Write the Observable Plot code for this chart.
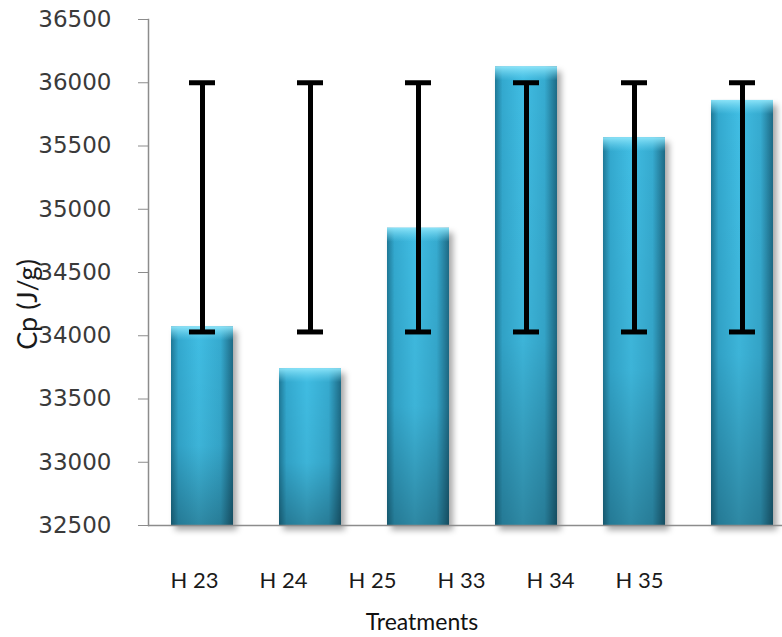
<!DOCTYPE html>
<html><head><meta charset="utf-8">
<script src="https://cdn.jsdelivr.net/npm/d3@7"></script>
<script src="https://cdn.jsdelivr.net/npm/@observablehq/plot@0.6"></script>
<style>
body{margin:0;background:#fff;}
#chart svg{display:block;}
.bars{filter: drop-shadow(4px 5px 3px rgba(0,0,0,0.35));}
</style></head><body><div id="chart"></div>
<script>
const categories = ["H 23","H 24","H 25","H 33","H 34","H 35"];
const values = [34070, 33740, 34850, 36125, 35565, 35860];
const errLow = [34030, 34030, 34030, 34030, 34030, 34030];
const errHigh = [36000, 36000, 36000, 36000, 36000, 36000];
const yTicks = [32500, 33000, 33500, 34000, 34500, 35000, 35500, 36000, 36500];
const xTitle = "Treatments";
const yTitle = "Cp (J/g)";

const data = categories.map((c, i) => ({cat: c, value: values[i], lo: errLow[i], hi: errHigh[i]}));
const base = yTicks[0];

const chart = Plot.plot({
  width: 782, height: 548,
  marginLeft: 148, marginRight: 0, marginTop: 19, marginBottom: 23,
  style: {background: "#fff", fontFamily: "DejaVu Sans", overflow: "visible"},
  x: {domain: categories, range: [148, 796], paddingInner: 0.43, paddingOuter: 0.215, axis: null},
  y: {domain: [yTicks[0], yTicks[yTicks.length - 1]], axis: null},
  marks: [
    Plot.barY(data, {x: "cat", y1: () => base, y2: "value", fill: "url(#gh)", className: "bars"}),
    Plot.barY(data, {x: "cat", y1: () => base, y2: "value", fill: "url(#gv)"}),
    Plot.barY(data, {x: "cat", y1: "value", y2: "value", insetBottom: -14, fill: "url(#gt)"}),
    Plot.ruleY([base], {stroke: "#8c8c8c", strokeWidth: 1.5}),
    Plot.frame({anchor: "left", stroke: "#8c8c8c", strokeWidth: 1.5}),
    Plot.axisY({ticks: yTicks, tickSize: 10, tickPadding: 27, tickFormat: d => String(d), fontSize: 23, fill: "#3a3a3a", stroke: "#8c8c8c", label: null}),
    Plot.ruleX(data, {x: "cat", y1: "lo", y2: "hi", stroke: "#000", strokeWidth: 5}),
    Plot.tickY(data, {x: "cat", y: "lo", stroke: "#000", strokeWidth: 5, inset: 18}),
    Plot.tickY(data, {x: "cat", y: "hi", stroke: "#000", strokeWidth: 5, inset: 18}),
    Plot.text([yTitle], {frameAnchor: "left", textAnchor: "middle", lineAnchor: "middle", rotate: -90, dx: -120, dy: 32, fontFamily: "Lato", fontSize: 27, fill: "#1a1a1a"})
  ]
});

const svg = d3.select(chart);
const defs = svg.insert("defs", ":first-child");
const gh = defs.append("linearGradient").attr("id", "gh").attr("x1", 0).attr("x2", 1).attr("y1", 0).attr("y2", 0);
[["0%", "#1e7896"], ["12%", "#33a9cf"], ["45%", "#40bde3"], ["80%", "#36abd0"], ["100%", "#1d6a85"]].forEach(([o, c]) => gh.append("stop").attr("offset", o).attr("stop-color", c));
const gv = defs.append("linearGradient").attr("id", "gv").attr("x1", 0).attr("x2", 0).attr("y1", 0).attr("y2", 1);
[["0%", "#000", 0], ["60%", "#000", 0.05], ["100%", "#000", 0.28]].forEach(([o, c, a]) => gv.append("stop").attr("offset", o).attr("stop-color", c).attr("stop-opacity", a));
const gt = defs.append("linearGradient").attr("id", "gt").attr("x1", 0).attr("x2", 0).attr("y1", 0).attr("y2", 1);
[["0%", "#8fe6fa", 0.95], ["100%", "#6fd6f2", 0]].forEach(([o, c, a]) => gt.append("stop").attr("offset", o).attr("stop-color", c).attr("stop-opacity", a));

// category labels and axis title (the reference's labels sit on a narrower spacing than the bars)
const labels = Plot.plot({
  width: 782, height: 89,
  marginLeft: 194, marginRight: 143, marginTop: 0, marginBottom: 0,
  style: {background: "#fff", overflow: "visible"},
  x: {type: "point", domain: categories, padding: 0, axis: null},
  marks: [
    Plot.text(categories, {x: d => d, frameAnchor: "top", lineAnchor: "middle", dy: 32, fontFamily: "Lato", fontSize: 22, fill: "#1a1a1a"}),
    Plot.text([xTitle], {frameAnchor: "top", lineAnchor: "middle", dy: 74, dx: 5, fontFamily: "Lato", fontSize: 23, fill: "#111"})
  ]
});

const root = document.getElementById("chart");
root.appendChild(chart);
root.appendChild(labels);
</script></body></html>
